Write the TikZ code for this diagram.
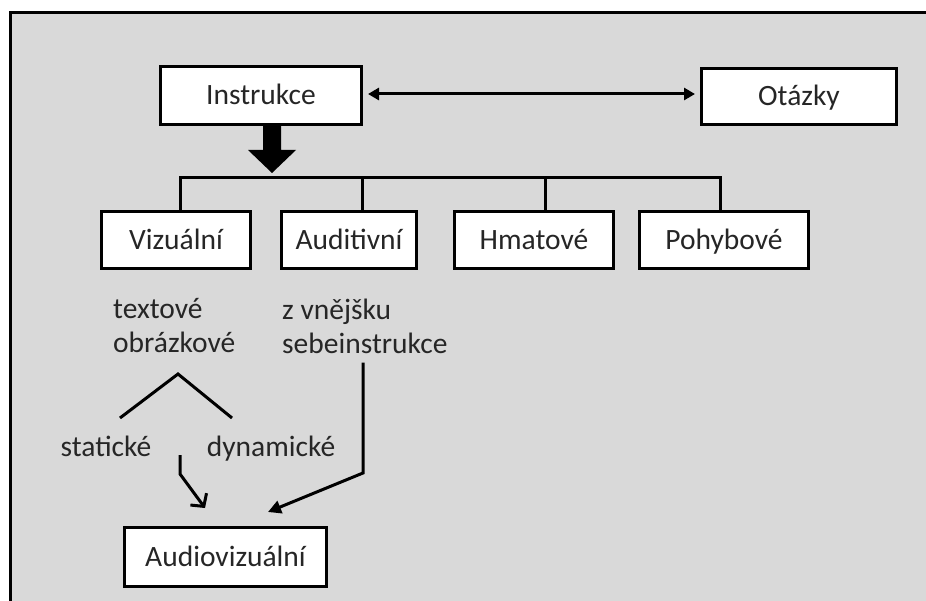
\documentclass[tikz,border=0pt]{standalone}
\usepackage{fontspec}
\setmainfont{Carlito}
\usetikzlibrary{arrows.meta,calc}
\definecolor{panel}{RGB}{217,217,217}
\definecolor{ink}{RGB}{38,38,38}
\begin{document}
\begin{tikzpicture}[x=1pt,y=-1pt,
  every node/.style={font=\fontsize{29.5}{34}\selectfont,text=ink},
  box/.style={draw=black,line width=3pt,fill=white,inner sep=0pt,anchor=center,
    text height=19pt,text depth=0pt},
  plain/.style={inner sep=0pt},
  word/.style={inner sep=0pt,text height=19pt,text depth=0pt},
  link/.style={draw=black,line width=3pt},
]
\useasboundingbox (0,0) rectangle (926,601);
\clip (0,0) rectangle (926,601);
% grey panel with top and left border; it runs on past the right and bottom edges
\fill[panel] (10,13) rectangle (960,640);
\draw[line width=3pt,line cap=rect] (10,640) -- (10,13) -- (960,13);

% boxes
\node[box,minimum width=201pt,minimum height=58pt] (instr) at (261,95.5) {Instrukce};
\node[box,minimum width=195pt,minimum height=56pt] (otaz) at (799,96.5) {Otázky};
\node[box,minimum width=149pt,minimum height=57pt] (viz) at (176,240) {Vizuální};
\node[box,minimum width=135pt,minimum height=57pt] (aud) at (349,240) {Auditivní};
\node[box,minimum width=159pt,minimum height=57pt] (hmat) at (534,240) {Hmatové};
\node[box,minimum width=169pt,minimum height=57pt] (pohyb) at (724,240) {Pohybové};
\node[box,minimum width=202pt,minimum height=59pt] (audviz) at (225.5,557) {Audiovizuální};

% free texts
\node[plain,align=left,anchor=west] (vtxt) at (113,326) {textové\\obrázkové};
\node[plain,align=left,anchor=west] (atxt) at (282,326) {z vnějšku\\sebeinstrukce};
\node[word] (stat) at (106,447) {statické};
\node[word] (dyn) at (271,447) {dynamické};

% double arrow between the top boxes
\draw[link,{Triangle[length=11pt,width=12pt]}-{Triangle[length=11pt,width=12pt]},shorten <=5pt,shorten >=5pt]
  (instr.east |- 0,94) -- (otaz.west |- 0,94);

% thick arrow down to the distribution bar
\coordinate (hub) at (272,178);
\fill[black] ($(hub |- instr.south)+(-9,0)$) -- ++(18,0) -- (281,150) -- (296,150)
  -- ($(hub)+(0,-5)$) -- (248,150) -- (263,150) -- cycle;

% distribution bar and drops
\draw[link,line cap=rect] (viz.north -| 180,0) -- (180,178) -- (720,178) -- (pohyb.north -| 720,0);
\draw[link] (362,178) -- (aud.north -| 362,0);
\draw[link] (545,178) -- (hmat.north -| 545,0);

% split into static and dynamic
\coordinate (apex) at (178,374);
\coordinate (sl) at (120,418);
\coordinate (sr) at (232,418);
\draw[link,line join=miter] (sl) -- (apex) -- (sr);

% arrows into the audiovisual box
\coordinate (sbend) at (180,474);
\draw[link,-{Straight Barb[length=9pt,width=20pt]}] (180,455) -- (sbend) -- (205,508);
\coordinate (abend) at (363,473);
\draw[link,-{Triangle[length=13pt,width=13pt]}] (atxt.south -| abend) ++(0,9) -- (abend) -- (268,512);
\end{tikzpicture}
\end{document}
